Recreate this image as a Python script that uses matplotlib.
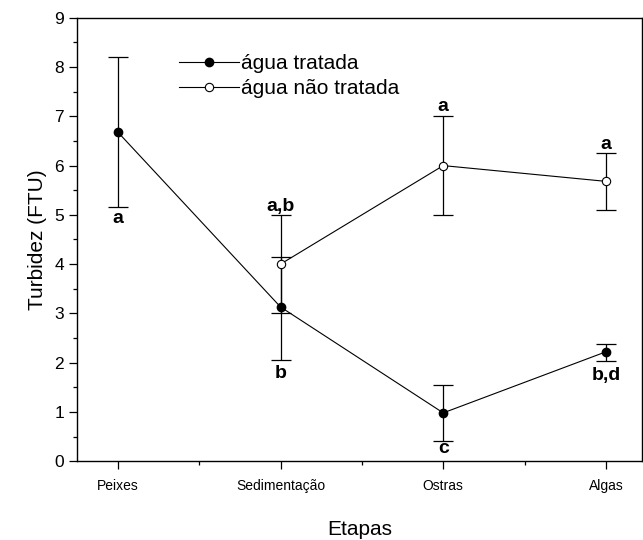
import numpy as np
import matplotlib
matplotlib.use("Agg")
import matplotlib.pyplot as plt
from matplotlib.ticker import MultipleLocator

plt.rcParams['font.family'] = ['Liberation Sans', 'DejaVu Sans']

etapas = ['Peixes', 'Sedimentação', 'Ostras', 'Algas']

# água tratada
trat = [6.68, 3.13, 0.98, 2.22]
trat_lo = [5.15, 2.05, 0.40, 2.03]
trat_hi = [8.20, 4.15, 1.55, 2.37]

# água não tratada (sem valor em Peixes)
ntrat = [4.0, 6.0, 5.68]
ntrat_lo = [3.0, 5.0, 5.10]
ntrat_hi = [5.0, 7.0, 6.25]

letras = ['a', 'a,b', 'b', 'a', 'c', 'a', 'b,d']
letras_x = [0, 1, 1, 2, 2, 3, 3]
letras_y = [4.92, 5.16, 1.77, 7.2, 0.26, 6.43, 1.73]

x = np.arange(len(etapas))
x2 = x[1:]

fig = plt.figure(figsize=(6.43, 5.40), dpi=100)
ax = fig.add_axes([0.12, 0.146, 0.878, 0.821])

yt = np.array(trat)
ax.errorbar(x, trat, yerr=[yt - trat_lo, np.array(trat_hi) - yt], fmt='none',
            ecolor='black', elinewidth=0.9, capsize=7, capthick=0.9)
yn = np.array(ntrat)
ax.errorbar(x2, ntrat, yerr=[yn - ntrat_lo, np.array(ntrat_hi) - yn], fmt='none',
            ecolor='black', elinewidth=0.9, capsize=7, capthick=0.9)

ax.plot(x, trat, c='black', lw=0.8, marker='o', ms=6, mfc='black', label='água tratada')
ax.plot(x2, ntrat, c='black', lw=0.8, marker='o', ms=6, mfc='white', mew=0.8,
        label='água não tratada')

for lx, ly, t in zip(letras_x, letras_y, letras):
    ax.text(lx, ly, t, ha='center', va='center', fontsize=14, fontweight='bold')

ax.set_xlim(-0.25, 3.22)
ax.set_ylim(0, 9)
ax.set_xticks(x)
ax.set_xticklabels(etapas, fontsize=10)
ax.xaxis.set_minor_locator(MultipleLocator(0.5))
ax.yaxis.set_major_locator(MultipleLocator(1))
ax.yaxis.set_minor_locator(MultipleLocator(0.5))
ax.tick_params(axis='y', which='major', length=6, width=0.9, labelsize=12.5)
ax.tick_params(axis='y', which='minor', length=3, width=0.9)
ax.tick_params(axis='x', which='major', length=6, width=0.9, pad=7)
ax.tick_params(axis='x', which='minor', length=3, width=0.9)
for s in ax.spines.values():
    s.set_linewidth(1.0)

ax.set_xlabel('Etapas', fontsize=15, labelpad=19)
ax.set_ylabel('Turbidez (FTU)', fontsize=15, labelpad=5)

ax.legend(loc='upper left', bbox_to_anchor=(0.18, 0.918), frameon=False, fontsize=15,
          handlelength=2.9, handletextpad=0.1, labelspacing=0.3,
          borderpad=0, borderaxespad=0)

fig.savefig('out.png', dpi=100)
